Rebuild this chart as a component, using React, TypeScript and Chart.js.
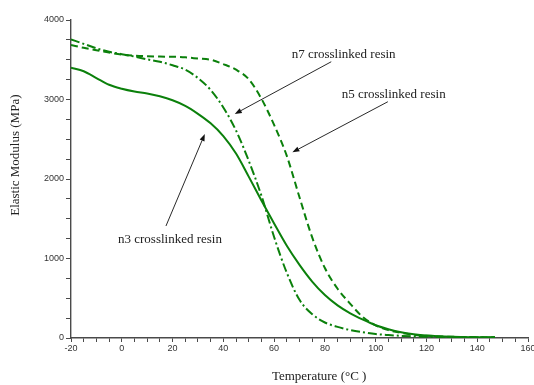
import { useEffect, useRef } from "react";
import { Chart, registerables } from "chart.js";

Chart.register(...registerables);

// Temperature sweep (°C) shared by the three resins
const temperatures = [
  -20, -15, -10, -5, 0, 5, 10, 15, 20, 25, 30, 35, 40, 45, 50, 55, 60, 65, 70,
  75, 80, 85, 90, 95, 100, 105, 110, 115, 120, 130, 140, 147,
];

// Elastic modulus (MPa) for each resin
const n3Modulus = [
  3400, 3355, 3270, 3185, 3135, 3100, 3075, 3040, 2990, 2920, 2820, 2700, 2540,
  2320, 2030, 1730, 1440, 1160, 920, 710, 540, 410, 310, 230, 160, 110, 72, 48,
  32, 16, 10, 8,
];
const n5Modulus = [
  3685, 3650, 3620, 3590, 3565, 3552, 3545, 3540, 3538, 3530, 3515, 3500, 3445,
  3375, 3255, 3010, 2680, 2290, 1770, 1265, 880, 620, 430, 262, 160, 100, 65, 40,
  28, 15, 10, 8,
];
const n7Modulus = [
  3757, 3700, 3645, 3600, 3570, 3540, 3505, 3475, 3430, 3375, 3270, 3120, 2900,
  2610, 2230, 1790, 1270, 820, 480, 300, 195, 140, 100, 72, 50, 37, 27, 20, 15,
  10, 8, 6,
];

const xTickLabels = [-20, 0, 20, 40, 60, 80, 100, 120, 140, 160];
const yTickLabels = [0, 1000, 2000, 3000, 4000];

// Callouts in data units: text anchor (left/middle), arrow tail and arrow head
const callouts = [
  { text: "n7 crosslinked resin", textT: 66.9, textE: 3570, tailT: 82.5, tailE: 3475, headT: 44.5, headE: 2818 },
  { text: "n5 crosslinked resin", textT: 86.6, textE: 3065, tailT: 104.8, tailE: 2972, headT: 67.2, headE: 2336 },
  { text: "n3 crosslinked resin", textT: -1.5, textE: 1233, tailT: 17.4, tailE: 1409, headT: 32.7, headE: 2566 },
];

const xTitle = "Temperature (°C )";
const yTitle = "Elastic Modulus (MPa)";

const GREEN = "#0b800b";
const AXIS = "#4a4a4a";
const SERIF = "'Liberation Serif', 'Times New Roman', serif";
const SANS = "'Liberation Sans', Arial, sans-serif";

const annotationPlugin = {
  id: "annotations",
  afterDraw(chart: any) {
    const { ctx, scales, chartArea } = chart;
    const xs = scales.x;
    const ys = scales.y;
    ctx.save();
    for (const c of callouts) {
      const tx = xs.getPixelForValue(c.tailT);
      const ty = ys.getPixelForValue(c.tailE);
      const hx = xs.getPixelForValue(c.headT);
      const hy = ys.getPixelForValue(c.headE);
      const ang = Math.atan2(hy - ty, hx - tx);
      const len = 7;
      const half = 2.6;
      const bx = hx - len * Math.cos(ang);
      const by = hy - len * Math.sin(ang);
      ctx.strokeStyle = "#111";
      ctx.lineWidth = 0.9;
      ctx.beginPath();
      ctx.moveTo(tx, ty);
      ctx.lineTo(bx, by);
      ctx.stroke();
      ctx.fillStyle = "#111";
      ctx.beginPath();
      ctx.moveTo(hx, hy);
      ctx.lineTo(bx + half * Math.sin(ang), by - half * Math.cos(ang));
      ctx.lineTo(bx - half * Math.sin(ang), by + half * Math.cos(ang));
      ctx.closePath();
      ctx.fill();

      ctx.font = `13px ${SERIF}`;
      ctx.fillStyle = "#222";
      ctx.textAlign = "left";
      ctx.textBaseline = "middle";
      ctx.fillText(c.text, xs.getPixelForValue(c.textT), ys.getPixelForValue(c.textE));
    }

    // axis titles
    ctx.font = `13px ${SERIF}`;
    ctx.fillStyle = "#222";
    ctx.textAlign = "center";
    ctx.textBaseline = "middle";
    ctx.fillText(xTitle, chartArea.left + (chartArea.right - chartArea.left) * 0.543, chartArea.bottom + 39);
    ctx.translate(16, chartArea.top + (chartArea.bottom - chartArea.top) * 0.425);
    ctx.rotate(-Math.PI / 2);
    ctx.fillText(yTitle, 0, 0);
    ctx.restore();
  },
};

export default function App() {
  const canvasRef = useRef<HTMLCanvasElement | null>(null);

  useEffect(() => {
    const canvas = canvasRef.current;
    if (!canvas) return;

    const line = (values: number[], dash: number[]) => ({
      data: temperatures.map((t, i) => ({ x: t, y: values[i] })),
      borderColor: GREEN,
      borderWidth: 2,
      borderDash: dash,
      pointRadius: 0,
      fill: false,
      cubicInterpolationMode: "monotone" as const,
    });

    const chart = new Chart(canvas, {
      type: "line",
      data: {
        datasets: [
          { label: "n3 crosslinked resin", ...line(n3Modulus, []) },
          { label: "n5 crosslinked resin", ...line(n5Modulus, [7, 4]) },
          { label: "n7 crosslinked resin", ...line(n7Modulus, [9, 3, 2, 3]) },
        ],
      },
      options: {
        responsive: false,
        animation: false,
        devicePixelRatio: 1,
        layout: { padding: { left: 0, right: 6, top: 20, bottom: 0 } },
        plugins: { legend: { display: false }, tooltip: { enabled: false } },
        scales: {
          x: {
            type: "linear",
            min: xTickLabels[0],
            max: xTickLabels[xTickLabels.length - 1],
            afterFit: (s: any) => {
              s.height = 47;
              s.paddingLeft = 0;
              s.paddingRight = 0;
            },
            ticks: {
              stepSize: 5,
              autoSkip: false,
              maxRotation: 0,
              padding: 1,
              color: "#333",
              font: { family: SANS, size: 9 },
              callback: (v: any) => (xTickLabels.includes(Number(v)) ? String(v) : ""),
            },
            grid: { drawOnChartArea: false, tickLength: 4, tickColor: AXIS, tickWidth: 1 },
            border: { display: true, color: AXIS, width: 1.4 },
          },
          y: {
            type: "linear",
            min: yTickLabels[0],
            max: yTickLabels[yTickLabels.length - 1],
            afterFit: (s: any) => {
              s.width = 71;
              s.paddingTop = 0;
              s.paddingBottom = 0;
            },
            ticks: {
              stepSize: 250,
              autoSkip: false,
              padding: 2,
              color: "#333",
              font: { family: SANS, size: 9 },
              callback: (v: any) => (yTickLabels.includes(Number(v)) ? String(v) : ""),
            },
            grid: { drawOnChartArea: false, tickLength: 5, tickColor: AXIS, tickWidth: 1 },
            border: { display: true, color: AXIS, width: 1.4 },
          },
        },
      },
      plugins: [annotationPlugin],
    });

    return () => chart.destroy();
  }, []);

  return (
    <div style={{ position: "fixed", left: 0, top: 0, width: 534, height: 385, background: "#fff" }}>
      <canvas ref={canvasRef} width={534} height={385} style={{ display: "block" }} />
    </div>
  );
}
